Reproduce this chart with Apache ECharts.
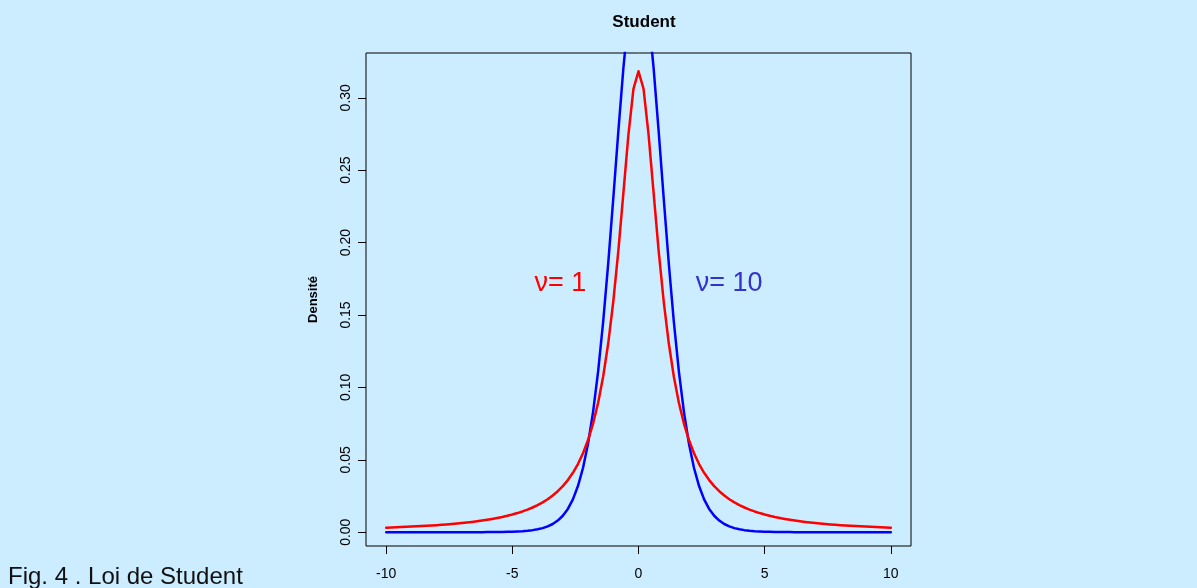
<!DOCTYPE html>
<html>
<head>
<meta charset="utf-8">
<title>Student</title>
<script src="https://cdn.jsdelivr.net/npm/echarts@6/dist/echarts.min.js"></script>
<style>
  html, body { margin: 0; padding: 0; background: #ccecff; }
  #chart { width: 1197px; height: 588px; }
</style>
</head>
<body>
<div id="chart"></div>
<script>
// x grid, -10 .. 10 by 0.2
const xValues = [
  -10, -9.8, -9.6, -9.4, -9.2, -9, -8.8, -8.6, -8.4, -8.2,
  -8, -7.8, -7.6, -7.4, -7.2, -7, -6.8, -6.6, -6.4, -6.2,
  -6, -5.8, -5.6, -5.4, -5.2, -5, -4.8, -4.6, -4.4, -4.2,
  -4, -3.8, -3.6, -3.4, -3.2, -3, -2.8, -2.6, -2.4, -2.2,
  -2, -1.8, -1.6, -1.4, -1.2, -1, -0.8, -0.6, -0.4, -0.2,
  0,
  0.2, 0.4, 0.6, 0.8, 1, 1.2, 1.4, 1.6, 1.8, 2,
  2.2, 2.4, 2.6, 2.8, 3, 3.2, 3.4, 3.6, 3.8, 4,
  4.2, 4.4, 4.6, 4.8, 5, 5.2, 5.4, 5.6, 5.8, 6,
  6.2, 6.4, 6.6, 6.8, 7, 7.2, 7.4, 7.6, 7.8, 8,
  8.2, 8.4, 8.6, 8.8, 9, 9.2, 9.4, 9.6, 9.8, 10
]

// density, nu = 1 (red)
const densityNu1 = [
  0.00315, 0.00328, 0.00342, 0.00356, 0.00372, 0.00388, 0.00406, 0.00425, 0.00445, 0.00466,
  0.00490, 0.00515, 0.00542, 0.00571, 0.00602, 0.00637, 0.00674, 0.00714, 0.00759, 0.00807,
  0.00860, 0.00919, 0.00984, 0.01055, 0.01135, 0.01224, 0.01324, 0.01436, 0.01563, 0.01708,
  0.01872, 0.02062, 0.02280, 0.02534, 0.02832, 0.03183, 0.03601, 0.04102, 0.04709, 0.05451,
  0.06366, 0.07507, 0.08941, 0.10754, 0.13046, 0.15915, 0.19409, 0.23405, 0.27441, 0.30607,
  0.31831,
  0.30607, 0.27441, 0.23405, 0.19409, 0.15915, 0.13046, 0.10754, 0.08941, 0.07507, 0.06366,
  0.05451, 0.04709, 0.04102, 0.03601, 0.03183, 0.02832, 0.02534, 0.02280, 0.02062, 0.01872,
  0.01708, 0.01563, 0.01436, 0.01324, 0.01224, 0.01135, 0.01055, 0.00984, 0.00919, 0.00860,
  0.00807, 0.00759, 0.00714, 0.00674, 0.00637, 0.00602, 0.00571, 0.00542, 0.00515, 0.00490,
  0.00466, 0.00445, 0.00425, 0.00406, 0.00388, 0.00372, 0.00356, 0.00342, 0.00328, 0.00315
]

// density, nu = 10 (blue)
const densityNu10 = [
  0.000001, 0.000001, 0.000001, 0.000001, 0.000002, 0.000002, 0.000003, 0.000003, 0.000004, 0.000005,
  0.000007, 0.000008, 0.000011, 0.000013, 0.000017, 0.000022, 0.000029, 0.000038, 0.000050, 0.000066,
  0.000088, 0.000118, 0.000158, 0.000214, 0.000290, 0.000397, 0.000544, 0.000751, 0.001041, 0.001451,
  0.002031, 0.002856, 0.004027, 0.005689, 0.008050, 0.011400, 0.016124, 0.022731, 0.031887, 0.044381,
  0.061128, 0.083124, 0.111080, 0.145384, 0.185659, 0.230362, 0.276612, 0.320317, 0.356577, 0.380652,
  0.389108,
  0.380652, 0.356577, 0.320317, 0.276612, 0.230362, 0.185659, 0.145384, 0.111080, 0.083124, 0.061128,
  0.044381, 0.031887, 0.022731, 0.016124, 0.011400, 0.008050, 0.005689, 0.004027, 0.002856, 0.002031,
  0.001451, 0.001041, 0.000751, 0.000544, 0.000397, 0.000290, 0.000214, 0.000158, 0.000118, 0.000088,
  0.000066, 0.000050, 0.000038, 0.000029, 0.000022, 0.000017, 0.000013, 0.000011, 0.000008, 0.000007,
  0.000005, 0.000004, 0.000003, 0.000003, 0.000002, 0.000002, 0.000001, 0.000001, 0.000001, 0.000001
]

const xTicks = [-10, -5, 0, 5, 10]
const yTicks = [0, 0.05, 0.1, 0.15, 0.2, 0.25, 0.3]

const font = "'Liberation Sans', Arial, Helvetica, sans-serif"

const chart = echarts.init(document.getElementById("chart"))

const option = {
  backgroundColor: "#ccecff",
  animation: false,
  title: {
    text: "Student",
    left: 639,
    top: 9,
    textAlign: "center",
    textStyle: { fontFamily: font, fontSize: 17, fontWeight: "bold", color: "#000" },
  },
  grid: {
    left: 366,
    top: 53,
    width: 545,
    height: 493,
    show: true,
    borderColor: "#000",
    borderWidth: 1,
    backgroundColor: "transparent",
  },
  xAxis: {
    type: "value",
    min: -10.8,
    max: 10.8,
    axisLine: { show: false, onZero: false },
    splitLine: { show: false },
    axisTick: {
      customValues: xTicks,
      length: 8,
      lineStyle: { color: "#000", width: 1 },
    },
    axisLabel: {
      customValues: xTicks,
      margin: 21,
      fontFamily: font,
      fontSize: 14,
      color: "#000",
    },
  },
  yAxis: {
    type: "value",
    min: -0.0095,
    max: 0.3309,
    name: "Densité",
    nameLocation: "middle",
    nameRotate: 90,
    nameGap: 46,
    nameTextStyle: { fontFamily: font, fontSize: 13, fontWeight: "bold", color: "#000" },
    axisLine: { show: false, onZero: false },
    splitLine: { show: false },
    axisTick: {
      customValues: yTicks,
      length: 8,
      lineStyle: { color: "#000", width: 1 },
    },
    axisLabel: {
      customValues: yTicks,
      rotate: 90,
      margin: 13,
      fontFamily: font,
      fontSize: 14,
      color: "#000",
      formatter: (v) => v.toFixed(2),
    },
  },
  series: [
    {
      name: "nu=1",
      type: "line",
      data: xValues.map((x, i) => [x, densityNu1[i]]),
      showSymbol: false,
      symbol: "none",
      clip: true,
      lineStyle: { color: "#ff0000", width: 2.5, join: "round", cap: "round" },
      z: 3,
    },
    {
      name: "nu=10",
      type: "line",
      data: xValues.map((x, i) => [x, densityNu10[i]]),
      showSymbol: false,
      symbol: "none",
      clip: true,
      lineStyle: { color: "#0000ff", width: 2.5, join: "round", cap: "round" },
      z: 2,
    },
  ],
}

chart.setOption(option)

// annotations placed in data coordinates
const p1 = chart.convertToPixel({ gridIndex: 0 }, [-3.1, 0.172])
const p10 = chart.convertToPixel({ gridIndex: 0 }, [3.59, 0.172])

chart.setOption({
  graphic: [
    {
      type: "text",
      x: p1[0],
      y: p1[1],
      style: {
        text: "ν= 1",
        fill: "#ff0000",
        font: "27px " + font,
        textAlign: "center",
        textVerticalAlign: "middle",
      },
    },
    {
      type: "text",
      x: p10[0],
      y: p10[1],
      style: {
        text: "ν= 10",
        fill: "#3333cc",
        font: "27px " + font,
        textAlign: "center",
        textVerticalAlign: "middle",
      },
    },
    {
      type: "text",
      left: 8,
      top: 565,
      style: {
        text: "Fig. 4 . Loi de Student",
        fill: "#111",
        font: "24px " + font,
      },
    },
  ],
})
</script>
</body>
</html>
